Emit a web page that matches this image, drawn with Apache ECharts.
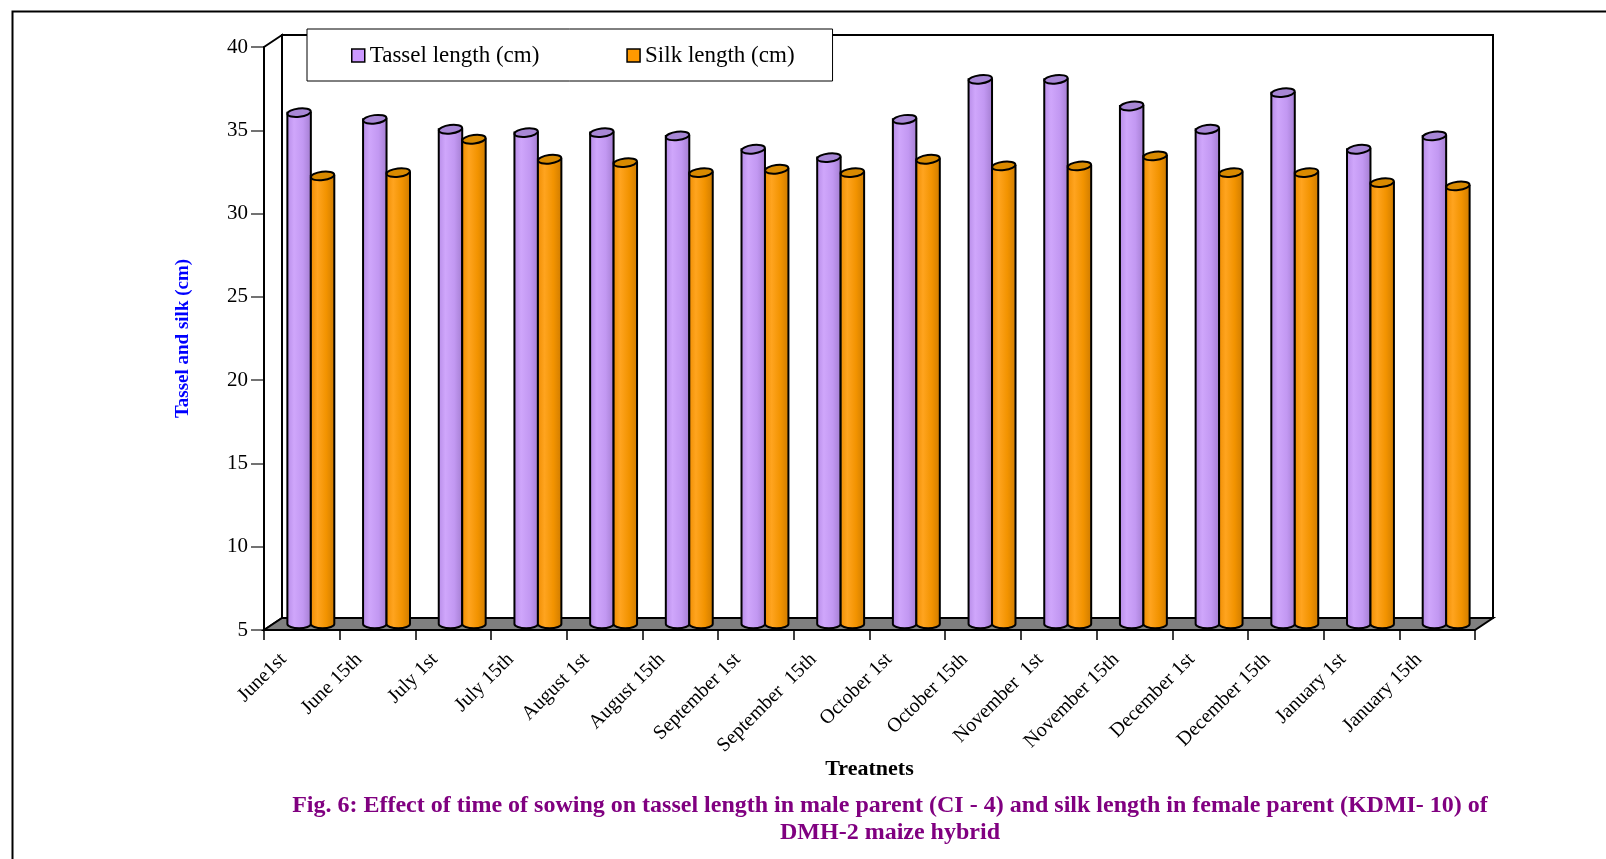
<!DOCTYPE html>
<html>
<head>
<meta charset="utf-8">
<script src="https://cdn.jsdelivr.net/npm/echarts@6/dist/echarts.min.js"></script>
<style>
  html, body { margin: 0; padding: 0; background: #fff; }
  #chart { width: 1606px; height: 859px; }
</style>
</head>
<body>
<div id="chart"></div>
<script>
// Sowing dates (treatments)
const categories = [
  'June1st', 'June 15th', 'July 1st', 'July 15th', 'August 1st', 'August 15th',
  'September 1st', 'September  15th', 'October 1st', 'October 15th', 'November  1st',
  'November 15th', 'December 1st', 'December 15th', 'January 1st', 'January 15th'
];
// Tassel length in male parent (cm)
const tasselLength = [35.7, 35.3, 34.7, 34.5, 34.5, 34.3, 33.5, 33.0, 35.3, 37.7, 37.7, 36.1, 34.7, 36.9, 33.5, 34.3];
// Silk length in female parent (cm)
const silkLength = [31.9, 32.1, 34.1, 32.9, 32.7, 32.1, 32.3, 32.1, 32.9, 32.5, 32.5, 33.1, 32.1, 32.1, 31.5, 31.3];
// Value axis range
const yMin = 5, yMax = 40, yStep = 5;

const seriesNames = ['Tassel length (cm)', 'Silk length (cm)'];

// Pseudo-3D layout: depth of the box and cylinder proportions
const DEPTH_X = 18, DEPTH_Y = -12;
const BAR_RATIO = 0.31;
const ELLIPSE_RY = 4.2;
const SERIF = "'Liberation Serif', 'Times New Roman', serif";

const palettes = [
  { base: '#CC99FF', top: '#A887D6',
    stops: ['#B58AE6', '#CFA6FB', '#C298F2', '#A27CCF'] },
  { base: '#FF9900', top: '#D98A00',
    stops: ['#EE8C00', '#FFA41F', '#F29300', '#CC7A00'] }
];

function cylinderRenderer(side, pal) {
  const grad = new echarts.graphic.LinearGradient(0, 0, 1, 0, [
    { offset: 0, color: pal.stops[0] },
    { offset: 0.3, color: pal.stops[1] },
    { offset: 0.65, color: pal.stops[2] },
    { offset: 1, color: pal.stops[3] }
  ]);
  return function (params, api) {
    const idx = api.value(0);
    const val = api.value(1);
    const top = api.coord([idx, val]);
    const base = api.coord([idx, yMin]);
    const band = api.size([1, 0])[0];
    const w = band * BAR_RATIO;
    const rx = w / 2, ry = ELLIPSE_RY;
    const cx = top[0] + DEPTH_X / 2 + side * w / 2;
    const yt = top[1] + DEPTH_Y / 2;
    const yb = base[1] + DEPTH_Y / 2;
    const xl = cx - rx, xr = cx + rx;
    return {
      type: 'group',
      children: [
        {
          type: 'path',
          shape: { pathData: 'M' + xl + ' ' + yt + 'L' + xl + ' ' + yb +
            'A' + rx + ' ' + ry + ' 0 0 0 ' + xr + ' ' + yb + 'L' + xr + ' ' + yt + 'Z' },
          style: { fill: grad, stroke: '#000', lineWidth: 2 }
        },
        {
          type: 'ellipse',
          shape: { cx: cx, cy: yt, rx: rx, ry: ry },
          originX: cx, originY: yt, rotation: 0.12,
          style: { fill: pal.top, stroke: '#000', lineWidth: 2 }
        }
      ]
    };
  };
}

// Back wall, side wall and floor of the box
function renderFrame(params) {
  const cs = params.coordSys;
  const x0 = cs.x, x1 = cs.x + cs.width, y0 = cs.y, y1 = cs.y + cs.height;
  const dx = DEPTH_X, dy = DEPTH_Y;
  const edge = { stroke: '#000', lineWidth: 2 };
  return {
    type: 'group',
    children: [
      { type: 'polygon', shape: { points: [[x0 + dx, y0 + dy], [x1 + dx, y0 + dy], [x1 + dx, y1 + dy], [x0 + dx, y1 + dy]] },
        style: Object.assign({ fill: '#fff' }, edge) },
      { type: 'polygon', shape: { points: [[x0, y0], [x0 + dx, y0 + dy], [x0 + dx, y1 + dy], [x0, y1]] },
        style: Object.assign({ fill: '#fff' }, edge) },
      { type: 'polygon', shape: { points: [[x0, y1], [x0 + dx, y1 + dy], [x1 + dx, y1 + dy], [x1, y1]] },
        style: Object.assign({ fill: '#808080' }, edge) }
    ]
  };
}

const chart = echarts.init(document.getElementById('chart'), null, { renderer: 'canvas' });

chart.setOption({
  animation: false,
  backgroundColor: '#fff',
  grid: { left: 264, right: 131, top: 47, bottom: 229 },
  legend: {
    left: 307, top: 29,
    padding: [15, 38, 14, 44],
    itemGap: 87, itemWidth: 13, itemHeight: 13,
    backgroundColor: '#fff', borderColor: '#000', borderWidth: 1,
    icon: 'rect',
    selectedMode: false,
    textStyle: { fontFamily: SERIF, fontSize: 23, color: '#000' },
    data: [
      { name: seriesNames[0], itemStyle: { color: palettes[0].base, borderColor: '#000', borderWidth: 1.5 } },
      { name: seriesNames[1], itemStyle: { color: palettes[1].base, borderColor: '#000', borderWidth: 1.5 } }
    ]
  },
  xAxis: {
    type: 'category',
    data: categories,
    name: 'Treatnets',
    nameLocation: 'middle',
    nameGap: 128,
    nameMoveOverlap: false,
    nameTextStyle: { fontFamily: SERIF, fontSize: 22, fontWeight: 'bold', color: '#000' },
    axisLine: { show: false },
    axisTick: { show: true, length: 10, lineStyle: { color: '#000', width: 1.5 } },
    axisLabel: {
      rotate: 45, margin: 8, padding: [0, 26, 0, 0],
      fontFamily: SERIF, fontSize: 20, color: '#000'
    },
    splitLine: { show: false }
  },
  yAxis: {
    type: 'value',
    min: yMin, max: yMax, interval: yStep,
    name: 'Tassel and silk (cm)',
    nameLocation: 'middle',
    nameGap: 71,
    nameMoveOverlap: false,
    nameTextStyle: { fontFamily: SERIF, fontSize: 19, fontWeight: 'bold', color: '#0000FF' },
    axisLine: { show: true, lineStyle: { color: '#000', width: 2 } },
    axisTick: { show: true, length: 13, lineStyle: { color: '#444', width: 1.5 } },
    axisLabel: { margin: 16, fontFamily: SERIF, fontSize: 21, color: '#000' },
    splitLine: { show: false }
  },
  graphic: [
    {
      type: 'rect', left: 10, top: 9, silent: true, z: 10,
      shape: { width: 1700, height: 900 },
      style: { fill: 'none', stroke: '#000', lineWidth: 2 }
    },
    {
      type: 'text', x: 890, y: 806, silent: true,
      style: {
        text: 'Fig. 6: Effect of time of sowing on tassel length in male parent (CI - 4) and silk length in female parent (KDMI- 10) of',
        align: 'center', verticalAlign: 'middle',
        font: 'bold 24px ' + SERIF, fill: '#800080'
      }
    },
    {
      type: 'text', x: 890, y: 833, silent: true,
      style: {
        text: 'DMH-2 maize hybrid',
        align: 'center', verticalAlign: 'middle',
        font: 'bold 24px ' + SERIF, fill: '#800080'
      }
    }
  ],
  series: [
    {
      type: 'custom', name: 'frame', silent: true, clip: false, z: 1,
      renderItem: renderFrame,
      data: [[0, yMin]]
    },
    {
      type: 'custom', name: seriesNames[0], silent: true, clip: false, z: 3,
      itemStyle: { color: palettes[0].base },
      renderItem: cylinderRenderer(-1, palettes[0]),
      encode: { x: 0, y: 1 },
      data: tasselLength.map(function (v, i) { return [i, v]; })
    },
    {
      type: 'custom', name: seriesNames[1], silent: true, clip: false, z: 3,
      itemStyle: { color: palettes[1].base },
      renderItem: cylinderRenderer(1, palettes[1]),
      encode: { x: 0, y: 1 },
      data: silkLength.map(function (v, i) { return [i, v]; })
    }
  ]
});
</script>
</body>
</html>
